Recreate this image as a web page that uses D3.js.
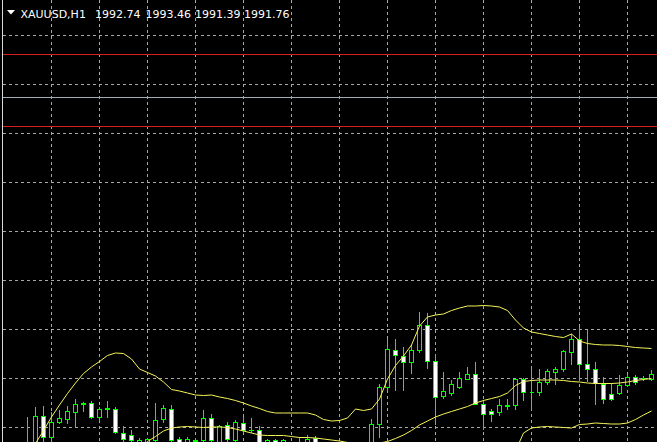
<!DOCTYPE html>
<html><head><meta charset="utf-8">
<script src="https://cdn.jsdelivr.net/npm/d3@7"></script>
<style>html,body{margin:0;padding:0;background:#000;overflow:hidden}svg{display:block}</style>
</head><body>
<svg id="c" width="657" height="442"></svg>
<script>
// ---- data ----
const symbol = "XAUUSD,H1";
const quote = ["1992.74", "1993.46", "1991.39", "1991.76"];   // O H L C of current bar
const firstBar = 3;   // index of the first bar listed below
const opens  = [1975.2,1976.0,1982.4,1978.2,1981.3,1981.8,1983.3,1984.9,1985.0,1982.2,1983.9,1983.9,1979.0,1978.6,1976.6,1976.8,1977.6,1981.8,1983.9,1977.8,1977.0,1977.5,1977.6,1982.1,1976.6,1980.6,1977.6,1981.1,1979.6,1979.6,1977.0,1977.7,1977.2,1976.4,1976.6,1976.8,1978.0,1976.7,1975.6,1974.6,1975.2,1974.4,1975.6,1976.4,1980.9,1988.3,1995.7,1994.5,1993.3,1995.6,2000.6,1993.4,1986.5,1987.1,1988.3,1989.9,1990.8,1984.9,1983.4,1983.3,1984.5,1984.6,1989.8,1987.3,1987.3,1989.3,1991.3,1991.8,1995.3,1997.9,1992.9,1991.9,1988.9,1986.9,1987.1,1988.6,1990.3,1990.0,1989.9];
const highs  = [1982.2,1984.3,1984.5,1983.3,1983.6,1984.4,1985.8,1985.3,1985.4,1984.3,1985.4,1984.3,1980.4,1979.7,1978.0,1978.1,1985.1,1984.6,1984.7,1978.2,1978.2,1978.0,1983.6,1982.8,1980.7,1981.3,1981.7,1982.3,1982.0,1980.4,1977.8,1977.9,1977.9,1976.9,1978.3,1978.6,1978.4,1977.0,1976.4,1975.8,1976.0,1976.2,1976.9,1981.9,1988.9,1997.9,1997.9,1996.2,1996.6,2003.3,2003.1,1994.6,1991.3,1989.6,1991.3,1992.3,1993.3,1985.7,1983.8,1985.8,1985.9,1989.9,1990.1,1991.9,1991.9,1991.8,1992.3,1995.6,1998.9,2000.3,1999.7,1993.3,1990.2,1989.1,1990.7,1990.8,1990.6,1990.4,1991.6];
const lows   = [1973.6,1974.6,1976.6,1977.0,1981.0,1981.0,1980.4,1983.5,1982.0,1981.7,1982.3,1979.0,1976.8,1976.4,1976.0,1976.2,1976.6,1981.3,1976.8,1976.4,1976.4,1976.8,1976.8,1977.0,1976.2,1977.0,1976.8,1979.3,1979.3,1976.4,1976.6,1976.4,1976.6,1975.6,1975.6,1976.4,1976.2,1975.2,1974.0,1973.6,1973.2,1973.6,1974.6,1975.6,1978.3,1987.6,1987.7,1987.7,1991.1,1995.3,1992.0,1980.8,1986.0,1986.6,1988.1,1989.8,1984.8,1979.9,1981.4,1982.6,1983.9,1983.9,1985.6,1983.6,1986.6,1988.9,1988.9,1991.5,1992.9,1989.6,1989.4,1984.8,1985.0,1985.6,1986.8,1988.4,1988.9,1989.6,1989.7];
const closes = [1976.4,1982.4,1978.2,1981.3,1982.0,1983.4,1984.8,1985.0,1982.2,1983.8,1984.0,1979.3,1977.8,1977.6,1977.7,1977.8,1981.7,1984.1,1977.7,1977.0,1977.8,1977.6,1982.1,1977.6,1980.4,1977.8,1981.3,1979.6,1979.7,1976.8,1977.6,1977.0,1977.7,1976.0,1977.0,1977.9,1976.8,1975.6,1974.6,1975.2,1974.4,1975.6,1976.4,1980.9,1988.3,1995.9,1994.6,1993.3,1995.6,2000.6,1993.4,1986.3,1987.5,1988.8,1990.1,1990.8,1984.9,1982.9,1982.9,1984.6,1984.6,1989.8,1987.3,1987.3,1989.3,1991.4,1991.9,1995.4,1997.9,1992.9,1991.9,1989.1,1985.8,1985.8,1988.6,1990.3,1989.3,1990.0,1990.8];

// Bollinger bands
const bbUpperFrom = 3;
const bbUpper = [1974.6,1977.0,1979.6,1982.3,1984.7,1987.0,1989.1,1991.0,1992.3,1993.4,1994.6,1995.1,1995.0,1993.9,1991.9,1991.2,1990.5,1989.3,1987.8,1987.5,1987.1,1986.7,1986.6,1986.7,1986.3,1986.0,1985.6,1985.1,1984.5,1984.0,1983.4,1983.1,1983.1,1983.1,1983.1,1983.1,1982.7,1981.8,1981.5,1981.6,1982.1,1983.9,1983.6,1983.9,1985.9,1989.9,1992.6,1994.5,1996.7,2000.5,2002.3,2002.7,2002.9,2003.6,2004.1,2004.5,2004.5,2004.6,2004.5,2004.3,2003.6,2001.7,2000.1,1999.3,1999.0,1998.7,1998.4,1998.2,1998.9,1997.5,1997.0,1996.8,1996.7,1996.7,1996.6,1996.4,1996.2,1996.1,1996.0];
const bbMiddleFrom = 16;
const bbMiddle = [1974.6,1976.0,1977.4,1978.4,1979.5,1980.1,1980.3,1980.4,1980.3,1980.2,1980.3,1980.3,1980.2,1979.9,1979.5,1979.1,1978.7,1978.6,1978.6,1978.6,1978.4,1978.2,1978.2,1978.1,1977.9,1977.7,1977.5,1977.2,1976.9,1976.7,1976.7,1977.1,1977.4,1978.0,1978.7,1979.6,1980.7,1981.5,1982.3,1982.9,1983.4,1983.9,1984.4,1985.1,1985.6,1986.0,1986.4,1987.1,1988.6,1989.4,1989.6,1989.7,1989.7,1989.7,1989.6,1989.4,1989.3,1989.1,1989.0,1989.0,1989.0,1989.1,1989.3,1989.6,1989.8,1990.0];
const bbLowerFrom = 60;
const bbLower = [1966.6,1967.5,1968.5,1970.7,1975.5,1979.1,1980.1,1980.3,1980.4,1980.3,1980.2,1980.1,1980.8,1980.9,1981.1,1981.0,1980.9,1980.9,1981.1,1981.8,1982.7,1983.5];

// horizontal line objects and grid
const redLevels = [2054.8, 2040.4];
const grayLevels = [2046.2];
const priceGrid = [2058.6, 2048.8, 2039.0, 2029.2, 2019.4, 2009.6, 1999.8, 1990.0, 1980.2];
const barGrid = [6, 12, 18, 24, 30, 36, 42, 48, 54, 60, 66, 72, 78];

// ---- drawing ----
const W = 657, H = 442;
const svg = d3.select("#c");
const x = d3.scaleLinear().domain([0, 81]).range([3.5, 651.5]);
const y = d3.scaleLinear().domain([1990, 2060]).range([378.5, 28.5]);

svg.append("rect").attr("width", W).attr("height", H).attr("fill", "#000");

const defs = svg.append("defs");
defs.append("clipPath").attr("id", "plot").append("rect")
  .attr("x", 3).attr("y", 0).attr("width", W - 3).attr("height", H);

const g = svg.append("g").attr("clip-path", "url(#plot)");

// grid
const grid = g.append("g").attr("stroke", "#a8a8a8").attr("stroke-width", 1)
  .attr("stroke-dasharray", "3,3").attr("shape-rendering", "crispEdges");
grid.selectAll("line.h").data(priceGrid).join("line").attr("class", "h")
  .attr("x1", 3).attr("x2", W).attr("y1", d => y(d)).attr("y2", d => y(d));
grid.selectAll("line.v").data(barGrid).join("line").attr("class", "v")
  .attr("x1", d => x(d)).attr("x2", d => x(d)).attr("y1", 0).attr("y2", H);

// candles
const bars = opens.map((o, k) => ({ i: k + firstBar, o, h: highs[k], l: lows[k], c: closes[k] }));
const cg = g.append("g").attr("shape-rendering", "crispEdges");
cg.selectAll("line.wick").data(bars).join("line").attr("class", "wick")
  .attr("x1", d => x(d.i)).attr("x2", d => x(d.i))
  .attr("y1", d => y(d.h) - 0.5).attr("y2", d => y(d.l) + 0.5)
  .attr("stroke", "#00ff00").attr("stroke-width", 1);
cg.selectAll("path.body").data(bars).join("path").attr("class", "body")
  .attr("d", d => {
    const x0 = x(d.i) - 2, x1 = x(d.i) + 2;
    const t = y(Math.max(d.o, d.c)), b = y(Math.min(d.o, d.c));
    return `M${x0},${t}H${x1}V${b}H${x0}Z`;
  })
  .attr("fill", d => d.c > d.o ? "#000" : (d.c < d.o ? "#fff" : "none"))
  .attr("stroke", "#00ff00").attr("stroke-width", 1);

// Bollinger bands
const band = (vals, from) => vals.map((v, k) => ({ i: k + from, v }));
const line = d3.line().x(d => x(d.i)).y(d => y(d.v));
[[bbUpper, bbUpperFrom], [bbMiddle, bbMiddleFrom], [bbLower, bbLowerFrom]].forEach(([v, f]) => {
  g.append("path").datum(band(v, f)).attr("d", line)
    .attr("fill", "none").attr("stroke", "#f4f45c").attr("stroke-width", 1);
});

// horizontal lines
const hl = g.append("g").attr("shape-rendering", "crispEdges");
hl.selectAll("line.red").data(redLevels).join("line").attr("class", "red")
  .attr("x1", 3).attr("x2", W).attr("y1", d => y(d)).attr("y2", d => y(d))
  .attr("stroke", "#d81e1e").attr("stroke-width", 1);
hl.selectAll("line.gray").data(grayLevels).join("line").attr("class", "gray")
  .attr("x1", 3).attr("x2", W).attr("y1", d => y(d)).attr("y2", d => y(d))
  .attr("stroke", "#a3abb3").attr("stroke-width", 1);

// left border
svg.append("line").attr("x1", 2.5).attr("x2", 2.5).attr("y1", 0).attr("y2", H)
  .attr("stroke", "#d8d8d8").attr("stroke-width", 1).attr("shape-rendering", "crispEdges");

// title
const title = svg.append("g").attr("font-family", "DejaVu Sans").attr("font-size", "11px").attr("fill", "#fff");
title.append("path").attr("d", "M7,10H15L11,14.5Z").attr("fill", "#fff");
title.append("text").attr("x", 20.5).attr("y", 18).text(symbol);
const qx = [95, 145.5, 195, 244];
title.selectAll("text.q").data(quote).join("text").attr("class", "q")
  .attr("x", (d, k) => qx[k]).attr("y", 18).text(d => d);
</script>
</body></html>
